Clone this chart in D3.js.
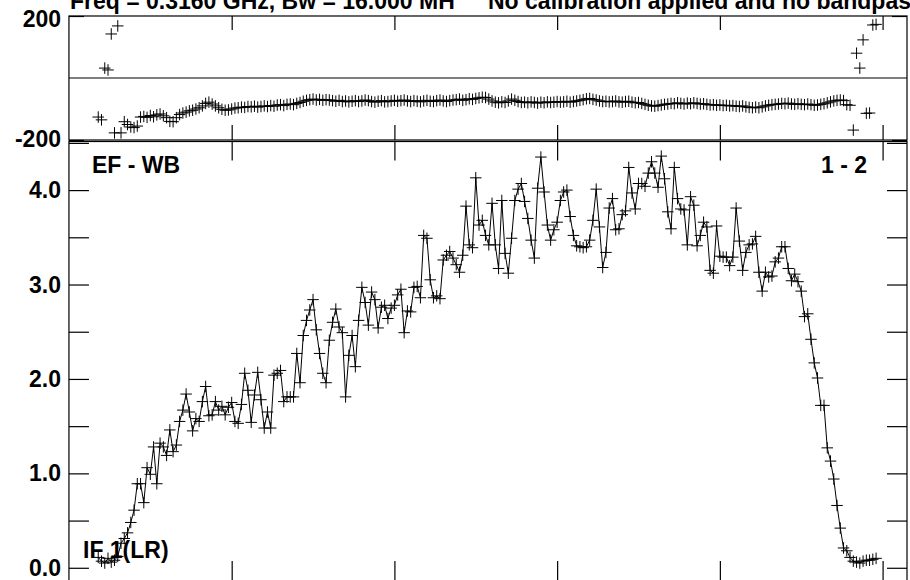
<!DOCTYPE html>
<html><head><meta charset="utf-8">
<script src="https://cdn.jsdelivr.net/npm/d3@7"></script>
<style>
body{margin:0;background:#fff;}
svg{display:block;}
text{font-family:"Liberation Sans",Arial,Helvetica,sans-serif;font-weight:bold;font-size:23px;fill:#000;}
</style>
</head><body>
<svg id="c" width="910" height="580"></svg>
<script>
const startChannel = 9;
const amplitude = [
0.11,0.07,0.05,0.10,0.06,0.08,0.12,0.26,0.31,0.37,
0.48,0.61,0.89,0.89,0.69,1.06,0.99,1.28,0.89,1.32,
1.28,1.19,1.46,1.23,1.30,1.55,1.67,1.84,1.65,1.45,
1.58,1.55,1.76,1.92,1.61,1.62,1.76,1.67,1.71,1.62,
1.70,1.75,1.55,1.53,1.73,2.06,1.88,1.54,1.83,2.07,
1.78,1.48,1.65,1.48,2.04,2.06,2.09,1.76,1.81,1.81,
1.81,2.27,1.96,2.46,2.62,2.73,2.84,2.52,2.27,2.06,
1.96,2.41,2.60,2.74,2.55,2.49,1.81,2.25,2.46,2.13,
2.62,2.97,2.81,2.57,2.92,2.84,2.54,2.76,2.78,2.64,
2.75,2.78,2.89,2.95,2.49,2.72,2.71,2.97,2.98,2.86,
3.52,3.49,3.05,2.86,2.88,2.85,3.26,3.31,3.35,3.28,
3.21,3.13,3.31,3.83,3.42,3.39,4.13,3.63,3.68,3.52,
3.42,3.86,3.42,3.17,3.89,3.33,3.12,3.49,3.89,4.01,
4.07,3.88,3.70,3.47,3.28,4.02,4.35,3.98,3.63,3.47,
3.58,3.66,3.89,3.98,4.00,3.72,3.52,3.41,3.40,3.39,
3.40,3.47,3.68,4.01,3.61,3.18,3.34,3.81,3.91,3.58,
3.59,3.74,3.78,4.24,3.97,3.80,4.07,4.07,4.04,4.18,
4.30,4.18,4.03,4.36,4.12,3.77,3.59,4.24,3.91,3.80,
3.79,3.42,3.93,3.84,3.41,3.52,3.66,3.61,3.15,3.12,
3.62,3.30,3.29,3.29,3.20,3.29,3.81,3.46,3.15,3.34,
3.42,3.43,3.51,3.13,2.93,3.13,3.08,3.09,3.24,3.28,
3.40,3.40,3.17,3.04,3.11,3.03,2.93,2.66,2.69,2.42,
2.17,2.01,1.72,1.72,1.27,1.13,0.94,0.66,0.42,0.21,
0.18,0.11,0.07,0.06,0.05,0.07,0.08,0.08,0.09,0.10
];
const phase = [
-126,-135,32,26,142,-177,168,-177,-141,-150,
-158,-160,-155,-126,-124,-127,-121,-125,-119,-116,
-122,-128,-140,-141,-128,-118,-113,-110,-106,-104,
-100,-96,-90,-82,-78,-84,-90,-96,-101,-104,
-103,-100,-97,-96,-94,-95,-92,-93,-91,-94,
-92,-90,-92,-89,-91,-87,-86,-89,-85,-84,
-86,-82,-79,-75,-72,-70,-68,-71,-69,-72,
-70,-71,-73,-75,-72,-76,-74,-77,-75,-73,
-76,-74,-71,-73,-76,-78,-75,-73,-77,-76,
-74,-72,-75,-73,-71,-74,-76,-73,-75,-77,
-74,-72,-75,-76,-73,-71,-74,-76,-73,-71,
-70,-68,-72,-70,-67,-69,-66,-64,-62,-63,
-68,-74,-78,-80,-77,-79,-74,-68,-72,-76,
-79,-78,-80,-77,-79,-81,-78,-80,-77,-79,
-78,-76,-78,-77,-75,-78,-76,-74,-72,-70,
-67,-66,-69,-71,-74,-76,-75,-77,-76,-74,
-77,-78,-76,-75,-78,-80,-79,-82,-85,-88,
-90,-91,-89,-87,-85,-84,-82,-83,-80,-82,
-84,-81,-83,-80,-82,-84,-83,-85,-87,-86,
-88,-87,-89,-88,-90,-89,-91,-92,-90,-93,
-95,-96,-94,-96,-93,-90,-88,-86,-85,-84,
-82,-83,-81,-84,-85,-83,-85,-86,-84,-86,
-88,-87,-85,-83,-80,-77,-74,-72,-71,-73,
-86,-88,-168,80,32,123,-114,-113,171,173
];
const ampTicks = [0,0.5,1,1.5,2,2.5,3,3.5,4,4.5];
const ampLabels = [0,1,2,3,4];
const phaseTicks = [-200,200];
const phaseLabels = [200,-200];
const chanTicks = [50,100,150,200,250];
const titleLeft = "Freq = 0.3160 GHz, Bw = 16.000 MH";
const titleRight = "No calibration applied and no bandpass";
const baselineLabel = "EF - WB";
const antennaLabel = "1 - 2";
const ifLabel = "IF 1(LR)";

const svg = d3.select("#c");
const L = 68.95, R = 907;
const x = d3.scaleLinear().domain([0, 257.5]).range([L, R]);
const yP = d3.scaleLinear().domain([-200, 200]).range([140, 16]);
const yA = d3.scaleLinear().domain([-0.14, 4.52]).range([581, 141]);

const ink = "#000";
svg.append("rect").attr("x", L).attr("y", 16).attr("width", R - L).attr("height", 124)
  .attr("fill", "none").attr("stroke", ink).attr("stroke-width", 1.2);
svg.append("rect").attr("x", L).attr("y", 141.5).attr("width", R - L).attr("height", 440)
  .attr("fill", "none").attr("stroke", ink).attr("stroke-width", 1.2);
svg.append("line").attr("x1", L).attr("x2", R).attr("y1", yP(0)).attr("y2", yP(0))
  .attr("stroke", ink).attr("stroke-width", 1.2);

function styleAxis(g){ g.select(".domain").remove(); g.selectAll(".tick line").attr("stroke", ink).attr("stroke-width", 1.2); g.selectAll("text").remove(); }

svg.append("g").attr("transform", `translate(${L},0)`)
  .call(d3.axisLeft(yA).tickValues(ampTicks).tickSize(-20).tickFormat("")).call(styleAxis);
svg.append("g").attr("transform", `translate(${R},0)`)
  .call(d3.axisRight(yA).tickValues(ampTicks).tickSize(-20).tickFormat("")).call(styleAxis);
svg.append("g").attr("transform", `translate(${L},0)`)
  .call(d3.axisLeft(yP).tickValues(phaseTicks).tickSize(-15).tickFormat("")).call(styleAxis);
svg.append("g").attr("transform", `translate(${R},0)`)
  .call(d3.axisRight(yP).tickValues(phaseTicks).tickSize(-15).tickFormat("")).call(styleAxis);
svg.append("g").attr("transform", "translate(0,16)")
  .call(d3.axisTop(x).tickValues(chanTicks).tickSize(-14).tickFormat("")).call(styleAxis);
svg.append("g").attr("transform", "translate(0,140)")
  .call(d3.axisBottom(x).tickValues(chanTicks).tickSize(-15).tickFormat("")).call(styleAxis);
svg.append("g").attr("transform", "translate(0,141.5)")
  .call(d3.axisTop(x).tickValues(chanTicks).tickSize(-19).tickFormat("")).call(styleAxis);
svg.append("g").attr("transform", "translate(0,581)")
  .call(d3.axisBottom(x).tickValues(chanTicks).tickSize(-20).tickFormat("")).call(styleAxis);

const ampData = amplitude.map((v, i) => ({c: startChannel + i, v}));
const phData = phase.map((v, i) => ({c: startChannel + i, v}));
const h = 5.75;
function crossPath(px, py){ return `M${px-h},${py}H${px+h}M${px},${py-h}V${py+h}`; }

svg.append("path").datum(ampData)
  .attr("d", d3.line().x(d => x(d.c)).y(d => yA(d.v)))
  .attr("fill", "none").attr("stroke", ink).attr("stroke-width", 1);
svg.append("path")
  .attr("d", ampData.map(d => crossPath(x(d.c), yA(d.v))).join(""))
  .attr("fill", "none").attr("stroke", ink).attr("stroke-width", 1);
svg.append("path")
  .attr("d", phData.map(d => crossPath(x(d.c), yP(d.v))).join(""))
  .attr("fill", "none").attr("stroke", ink).attr("stroke-width", 1);

svg.append("text").attr("x", 70).attr("y", 9).text(titleLeft);
svg.append("text").attr("x", 488).attr("y", 9).text(titleRight);
svg.append("text").attr("x", 61).attr("y", 27).attr("text-anchor", "end").text(phaseLabels[0]);
svg.append("text").attr("x", 61).attr("y", 147).attr("text-anchor", "end").text(phaseLabels[1]);
svg.selectAll("text.al").data(ampLabels).enter().append("text").attr("class", "al")
  .attr("x", 61).attr("y", d => yA(d) + 8).attr("text-anchor", "end")
  .text(d => d3.format(".1f")(d));
svg.append("text").attr("x", 92).attr("y", 172.5).text(baselineLabel);
svg.append("text").attr("x", 867).attr("y", 172.5).attr("text-anchor", "end").text(antennaLabel);
svg.append("text").attr("x", 83).attr("y", 558).text(ifLabel);
</script>
</body></html>
